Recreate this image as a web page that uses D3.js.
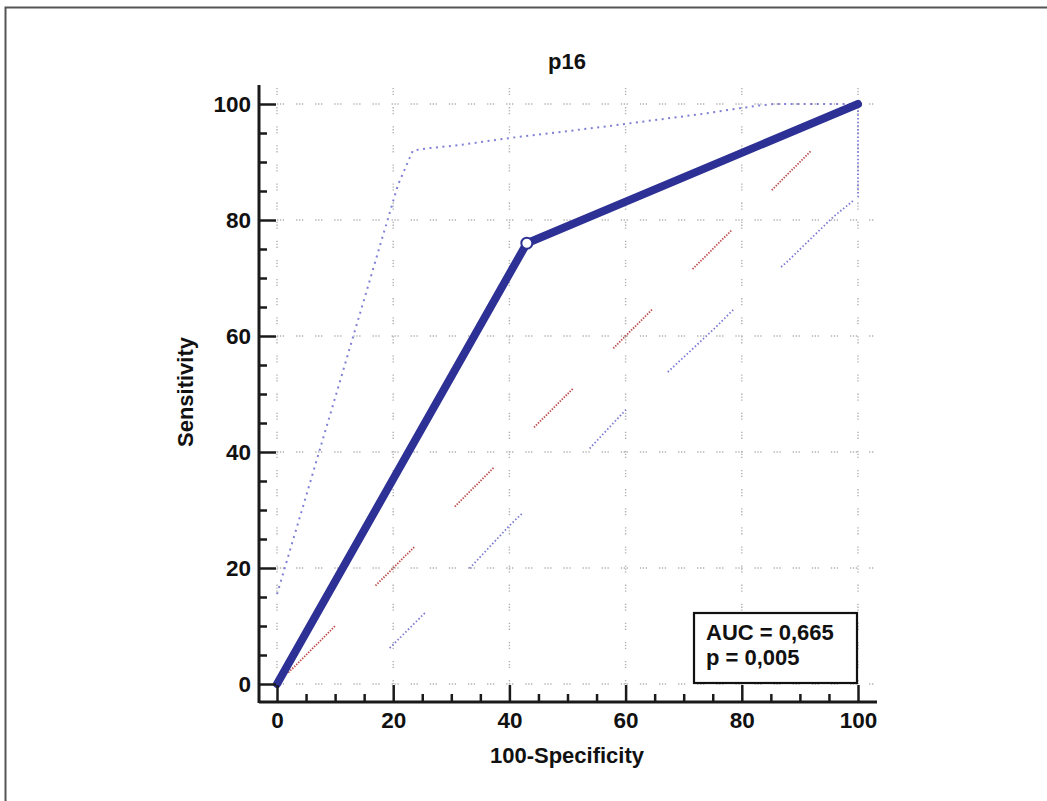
<!DOCTYPE html>
<html>
<head>
<meta charset="utf-8">
<script src="https://cdn.jsdelivr.net/npm/d3@7"></script>
<style>
  body { margin: 0; background: #fff; }
  svg text { font-family: "Liberation Sans", Arial, sans-serif; font-weight: bold; fill: #111; }
</style>
</head>
<body>
<div id="chart"></div>
<script>
// ROC curve for p16 (x = 100-Specificity, y = Sensitivity)
const rocX = [0, 43, 100];
const rocY = [0, 76, 100];

// upper 95% CI band
const upperX = [0, 4.8, 20.8, 23.4, 26.3, 31.2, 39.8, 55.6, 62.5, 74, 78.5, 82.6, 85.4, 100];
const upperY = [15.5, 31.7, 86, 92, 92.4, 92.9, 94.1, 96, 96.9, 98.4, 99.1, 99.7, 100, 100];

// lower 95% CI band
const lowerX = [19.4, 25.8, 33.2, 40.1, 53.9, 60.8, 67.6, 75.4, 79.7, 87.8, 95.7, 100, 100];
const lowerY = [6.2, 12.6, 20, 27.4, 40.7, 48.1, 54.1, 61.4, 65.7, 72.8, 80.5, 84, 100];

// reference diagonal
const diagX = [0, 100];
const diagY = [0, 100];

// criterion point
const cutX = [43];
const cutY = [76];

const majorTicks = [0, 20, 40, 60, 80, 100];
const minorTicks = d3.range(0, 101, 5).filter(d => d % 20 !== 0);
const statsLines = ['AUC = 0,665', 'p = 0,005'];

const width = 1047, height = 801;
const x = d3.scaleLinear().domain([0, 100]).range([277, 858]);
const y = d3.scaleLinear().domain([0, 100]).range([684, 104]);

const svg = d3.select('#chart').append('svg').attr('width', width).attr('height', height);

// turn a dash/gap list into dashes made of small dots
function dotted(pattern, dot, space) {
  const out = [];
  pattern.forEach((len, i) => {
    if (i % 2 === 0) {
      const n = Math.max(1, Math.floor(len / (dot + space)));
      for (let k = 0; k < n; k++) out.push(dot, space);
    } else {
      out[out.length - 1] += len;
    }
  });
  return out.join(',');
}

// outer frame (only top and left visible)
svg.append('rect')
  .attr('x', 5.5).attr('y', 7.5)
  .attr('width', 1100).attr('height', 900)
  .attr('fill', 'none').attr('stroke', '#555').attr('stroke-width', 2);

// grid
const grid = svg.append('g').attr('stroke', '#b0b0b0').attr('stroke-width', 1.4)
  .attr('stroke-dasharray', '1.3,1.6,1.3,1.6,1.3,12');
grid.selectAll('.gv').data(majorTicks).enter().append('line')
  .attr('x1', d => x(d)).attr('x2', d => x(d))
  .attr('y1', 88).attr('y2', y(0));
grid.selectAll('.gh').data(majorTicks).enter().append('line')
  .attr('y1', d => y(d)).attr('y2', d => y(d))
  .attr('x1', x(0)).attr('x2', 874);

const line = d3.line().x(d => x(d[0])).y(d => y(d[1]));
const zip = (a, b) => a.map((v, i) => [v, b[i]]);

// diagonal reference (red dashed, dotted texture)
svg.append('path')
  .datum(zip(diagX, diagY))
  .attr('d', line)
  .attr('fill', 'none')
  .attr('stroke', '#b94a48')
  .attr('stroke-width', 1.8)
  .attr('stroke-dasharray', dotted([16, 0, 57, 56, 57, 56, 57, 56, 57, 56, 57, 56, 57, 56, 57, 100], 1.4, 1.4)
    .replace(/^[^,]+,[^,]+,/, '0,16,'));

// upper CI (dotted blue)
svg.append('path')
  .datum(zip(upperX, upperY))
  .attr('d', line)
  .attr('fill', 'none')
  .attr('stroke', '#8080d6')
  .attr('stroke-width', 2)
  .attr('stroke-dasharray', '2,4.5');

// lower CI (dashed blue, dotted texture)
svg.append('path')
  .datum(zip(lowerX, lowerY))
  .attr('d', line)
  .attr('fill', 'none')
  .attr('stroke', '#7a7ad4')
  .attr('stroke-width', 1.8)
  .attr('stroke-dasharray', dotted([52, 61, 78, 92, 57, 54, 95, 62, 100, 4, 100, 20], 1.5, 2.2));

// ROC curve
svg.append('path')
  .datum(zip(rocX, rocY))
  .attr('d', line)
  .attr('fill', 'none')
  .attr('stroke', '#2d3094')
  .attr('stroke-width', 8)
  .attr('stroke-linecap', 'round')
  .attr('stroke-linejoin', 'round');

svg.selectAll('.cut').data(zip(cutX, cutY)).enter().append('circle')
  .attr('cx', d => x(d[0])).attr('cy', d => y(d[1]))
  .attr('r', 5.5)
  .attr('fill', '#fff').attr('stroke', '#2d3094').attr('stroke-width', 2);

// axes
const axisColor = '#1a1a1a';
const gx = svg.append('g').attr('transform', 'translate(0,702)');
gx.append('g').call(d3.axisBottom(x).tickValues(minorTicks).tickSize(-8).tickFormat(''));
gx.append('g').call(d3.axisBottom(x).tickValues(majorTicks).tickSize(-17).tickPadding(10));
gx.selectAll('.domain').remove();
gx.append('line').attr('x1', 259).attr('x2', 877).attr('y1', 0).attr('y2', 0)
  .attr('stroke', axisColor).attr('stroke-width', 3);

const gy = svg.append('g').attr('transform', 'translate(259,0)');
gy.append('g').call(d3.axisLeft(y).tickValues(minorTicks).tickSize(-8).tickFormat(''));
gy.append('g').call(d3.axisLeft(y).tickValues(majorTicks).tickSize(-17).tickPadding(8));
gy.selectAll('.domain').remove();
gy.append('line').attr('x1', 0).attr('x2', 0).attr('y1', 85).attr('y2', 703)
  .attr('stroke', axisColor).attr('stroke-width', 3);

svg.selectAll('.tick line').attr('stroke', axisColor).attr('stroke-width', 2.5);
svg.selectAll('.tick text').attr('font-size', 22.5).attr('fill', '#111')
  .style('font-family', '"Liberation Sans", Arial, sans-serif').style('font-weight', 'bold');

// titles
svg.append('text').attr('x', 567).attr('y', 69).attr('text-anchor', 'middle')
  .attr('font-size', 22).text('p16');
svg.append('text').attr('x', 567).attr('y', 763).attr('text-anchor', 'middle')
  .attr('font-size', 22).text('100-Specificity');
svg.append('text').attr('transform', 'translate(193,392) rotate(-90)')
  .attr('text-anchor', 'middle').attr('font-size', 22).text('Sensitivity');

// stats box
svg.append('rect').attr('x', 694).attr('y', 613).attr('width', 163).attr('height', 70)
  .attr('fill', '#fff').attr('stroke', '#111').attr('stroke-width', 2.2);
svg.selectAll('.stat').data(statsLines).enter().append('text')
  .attr('x', 706).attr('y', (d, i) => 640 + i * 25)
  .attr('font-size', 22).text(d => d);
</script>
</body>
</html>
